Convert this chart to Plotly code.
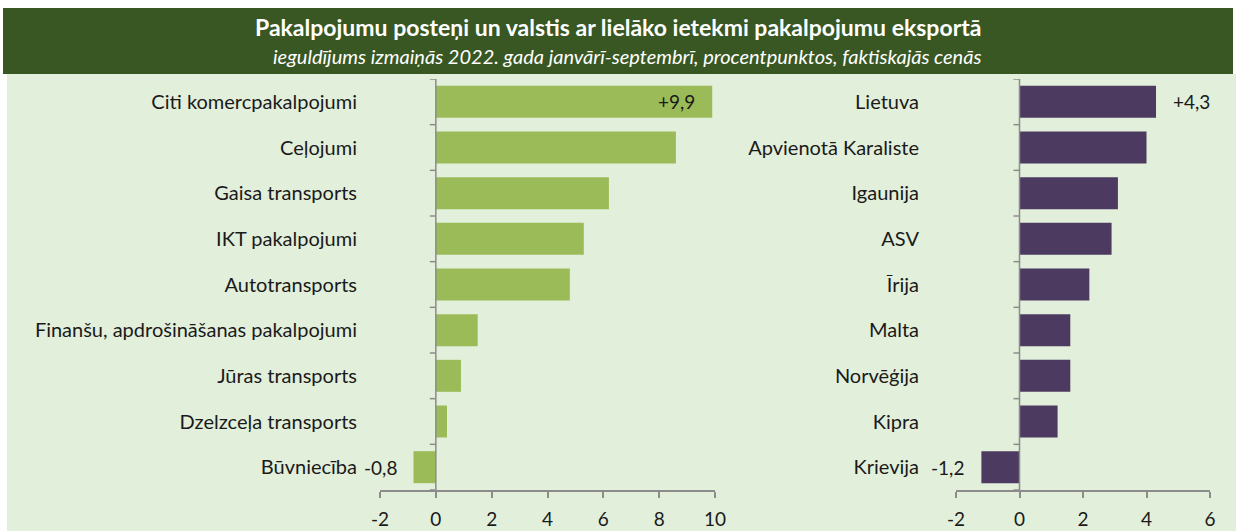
import plotly.graph_objects as go

services = ["Citi komercpakalpojumi", "Ceļojumi", "Gaisa transports", "IKT pakalpojumi",
            "Autotransports", "Finanšu, apdrošināšanas pakalpojumi", "Jūras transports",
            "Dzelzceļa transports", "Būvniecība"]
service_vals = [9.9, 8.6, 6.2, 5.3, 4.8, 1.5, 0.9, 0.4, -0.8]

countries = ["Lietuva", "Apvienotā Karaliste", "Igaunija", "ASV", "Īrija", "Malta",
             "Norvēģija", "Kipra", "Krievija"]
country_vals = [4.3, 4.0, 3.1, 2.9, 2.2, 1.6, 1.6, 1.2, -1.2]

left_ticks = [-2, 0, 2, 4, 6, 8, 10]
right_ticks = [-2, 0, 2, 4, 6]

title = "Pakalpojumu posteņi un valstis ar lielāko ietekmi pakalpojumu eksportā"
subtitle = "ieguldījums izmaiņās 2022. gada janvārī-septembrī, procentpunktos, faktiskajās cenās"

W, H = 1236, 531
FONT = "Lato"
TXT = "#1a1a1a"
AXC = "#8c8c8c"
GREEN_BAR = "#9bbb59"
PURPLE_BAR = "#4d3a60"
PANEL = "#e2efda"
BAND = "#385723"
LBL = 20

fig = go.Figure()
fig.add_trace(go.Bar(x=service_vals, y=services, orientation="h", marker_color=GREEN_BAR,
                     marker_line_width=0, width=0.7, xaxis="x", yaxis="y", hoverinfo="x+y"))
fig.add_trace(go.Bar(x=country_vals, y=countries, orientation="h", marker_color=PURPLE_BAR,
                     marker_line_width=0, width=0.7, xaxis="x2", yaxis="y2", hoverinfo="x+y"))

def fmt(v):
    return f"{v:+.1f}".replace(".", ",")

shapes = [
    dict(type="rect", xref="paper", yref="paper", x0=7 / W, x1=1, y0=0, y1=1 - 74 / H,
         fillcolor=PANEL, line_width=0, layer="below"),
    dict(type="rect", xref="paper", yref="paper", x0=3 / W, x1=1233 / W, y0=1 - 74 / H, y1=1 - 8 / H,
         fillcolor=BAND, line_width=0, layer="below"),
]
annotations = [
    dict(text=f"<b>{title}</b>", xref="paper", yref="paper", x=618 / W, y=1 - 27 / H,
         showarrow=False, font=dict(family=FONT, size=23, color="white"), xanchor="center", yanchor="middle"),
    dict(text=f"<i>{subtitle}</i>", xref="paper", yref="paper", x=627 / W, y=1 - 56 / H,
         showarrow=False, font=dict(family=FONT, size=20, color="white"), xanchor="center", yanchor="middle"),
]

for xr, yr, cats in (("x", "y", services), ("x2", "y2", countries)):
    n = len(cats)
    shapes.append(dict(type="line", xref=xr, yref=yr, x0=0, x1=0, y0=-0.5, y1=n - 0.5,
                       line=dict(color=AXC, width=1.5)))
    for i in range(n + 1):
        shapes.append(dict(type="line", xref=xr, yref=yr, xsizemode="pixel", xanchor=0,
                           x0=-6, x1=0, y0=i - 0.5, y1=i - 0.5, line=dict(color=AXC, width=1.5)))

VF = dict(family=FONT, size=19, color=TXT)
annotations += [
    dict(text=fmt(service_vals[0]), x=service_vals[0], y=services[0], xref="x", yref="y",
         xanchor="right", xshift=-15, showarrow=False, font=VF),
    dict(text=fmt(service_vals[-1]).replace("+", ""), x=service_vals[-1], y=services[-1], xref="x", yref="y",
         xanchor="right", xshift=-15, showarrow=False, font=VF),
    dict(text=fmt(country_vals[0]), x=country_vals[0], y=countries[0], xref="x2", yref="y2",
         xanchor="left", xshift=15, showarrow=False, font=VF),
    dict(text=fmt(country_vals[-1]).replace("+", ""), x=country_vals[-1], y=countries[-1], xref="x2", yref="y2",
         xanchor="right", xshift=-15, showarrow=False, font=VF),
]

ydom = [1 - 490 / H, 1 - 79 / H]
xaxis_common = dict(showgrid=False, zeroline=False, showline=True, linecolor=AXC, linewidth=1.5,
                    ticks="outside", ticklen=6, tickcolor=AXC, tickwidth=1.5, ticklabelstandoff=5,
                    tickfont=dict(family=FONT, size=19, color=TXT), fixedrange=True, automargin=False)
yaxis_common = dict(showgrid=False, zeroline=False, showline=False, ticks="", automargin=False,
                    tickfont=dict(family=FONT, size=LBL, color=TXT), domain=ydom, fixedrange=True)

fig.update_layout(
    autosize=True, margin=dict(l=0, r=0, t=0, b=0, autoexpand=False),
    paper_bgcolor="white", plot_bgcolor="rgba(0,0,0,0)",
    showlegend=False, bargap=0.3,
    xaxis=dict(domain=[380 / W, 715 / W], range=[-2, 10], tickvals=left_ticks,
               ticktext=[str(v) for v in left_ticks], anchor="y", **xaxis_common),
    xaxis2=dict(domain=[956 / W, 1210 / W], range=[-2, 6], tickvals=right_ticks,
                ticktext=[str(v) for v in right_ticks], anchor="y2", **xaxis_common),
    yaxis=dict(anchor="x", categoryorder="array", categoryarray=services, range=[len(services) - 0.5, -0.5],
               ticklabelstandoff=22, **yaxis_common),
    yaxis2=dict(anchor="x2", categoryorder="array", categoryarray=countries, range=[len(countries) - 0.5, -0.5],
                ticklabelstandoff=36, **yaxis_common),
    shapes=shapes, annotations=annotations,
)

fig.write_html("out.html", default_width="100vw", default_height="100vh",
               config={"displayModeBar": False},
               post_script="document.body.style.margin='0';document.body.style.overflow='hidden';"
                           "window.dispatchEvent(new Event('resize'));")
